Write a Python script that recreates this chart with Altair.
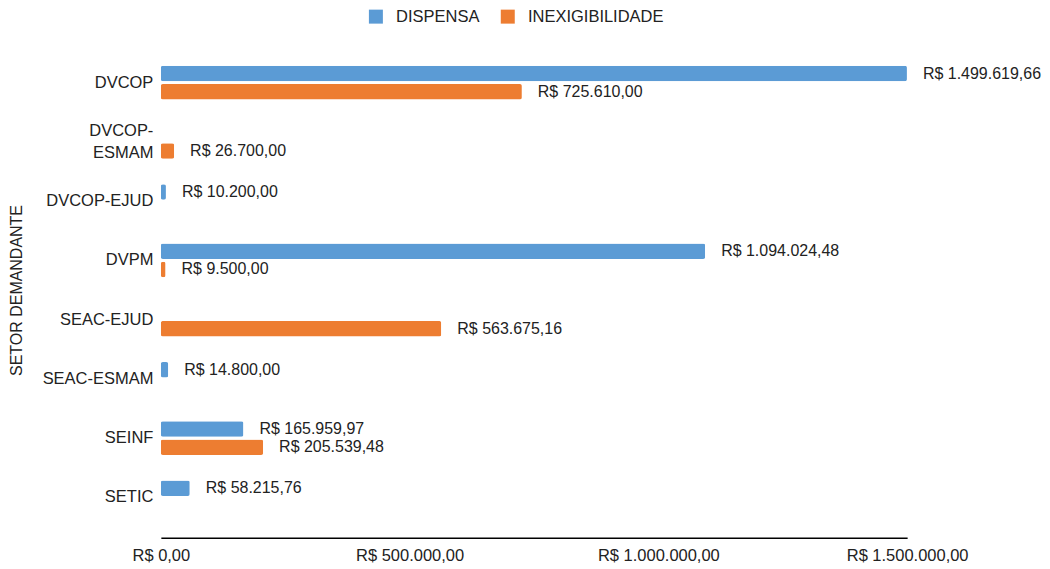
import altair as alt
import pandas as pd

setores = ["DVCOP", "DVCOP-ESMAM", "DVCOP-EJUD", "DVPM", "SEAC-EJUD", "SEAC-ESMAM", "SEINF", "SETIC"]
tipos = ["DISPENSA", "INEXIGIBILIDADE"]

dispensa = {"DVCOP": 1499619.66, "DVCOP-EJUD": 10200.00, "DVPM": 1094024.48,
            "SEAC-ESMAM": 14800.00, "SEINF": 165959.97, "SETIC": 58215.76}
inexig = {"DVCOP": 725610.00, "DVCOP-ESMAM": 26700.00, "DVPM": 9500.00,
          "SEAC-EJUD": 563675.16, "SEINF": 205539.48}

x_ticks = [0, 500000, 1000000, 1500000]
cores = ["#5B9BD5", "#ED7D31"]

rows = []
for s in setores:
    if s in dispensa:
        rows.append({"setor": s, "tipo": "DISPENSA", "valor": dispensa[s]})
    if s in inexig:
        rows.append({"setor": s, "tipo": "INEXIGIBILIDADE", "valor": inexig[s]})
df = pd.DataFrame(rows)

FONT = "Liberation Sans"

y_enc = alt.Y("setor:N", sort=setores,
              scale=alt.Scale(paddingInner=0.4, paddingOuter=0.382),
              axis=alt.Axis(title="SETOR DEMANDANTE", titleFontSize=16, titleFontWeight="normal",
                            titleColor="#222", titlePadding=18, labelFontSize=16.5, labelColor="#222",
                            labelPadding=8, ticks=False, domain=False, labelLineHeight=22,
                            labelOffset={"condition": {"test": "datum.value == 'DVCOP-ESMAM'", "value": -11},
                                         "value": 0},
                            labelExpr="datum.value == 'DVCOP-ESMAM' ? ['DVCOP-', 'ESMAM'] : datum.value"))
yoff_enc = alt.YOffset("tipo:N", scale=alt.Scale(domain=tipos, paddingInner=0.15, paddingOuter=0.05))
x_enc = alt.X("valor:Q", scale=alt.Scale(domain=[0, 1500000], nice=False),
              axis=alt.Axis(title=None, values=x_ticks, format="$,.2f", labelFontSize=16.5,
                            labelColor="#222", ticks=False, grid=False, domainColor="#000",
                            domainWidth=1.5, labelPadding=10, labelFlush=False))

base = alt.Chart(df).encode(y=y_enc, yOffset=yoff_enc, x=x_enc)

bars = base.mark_bar(cornerRadius=2).encode(
    color=alt.Color("tipo:N", scale=alt.Scale(domain=tipos, range=cores),
                    legend=alt.Legend(title=None, orient="none", legendX=207, legendY=-34,
                                      direction="horizontal", symbolType="square", symbolSize=196,
                                      symbolStrokeWidth=0, labelFontSize=16.5, labelColor="#222",
                                      labelOffset=12, columnPadding=20, padding=0))
)

labels = base.mark_text(align="left", baseline="middle", dx=16, fontSize=16, color="#222", font=FONT).encode(
    text=alt.Text("valor:Q", format="$,.2f")
)

chart = alt.layer(bars, labels).properties(
    width=747, height=496,
    padding={"top": 0, "left": 0, "right": 0, "bottom": 0}
).configure(
    font=FONT,
    locale={"number": {"decimal": ",", "thousands": ".", "grouping": [3], "currency": ["R$ ", ""]}}
).configure_view(stroke=None)

chart.save("out.html", embed_options={"renderer": "svg", "actions": False})
